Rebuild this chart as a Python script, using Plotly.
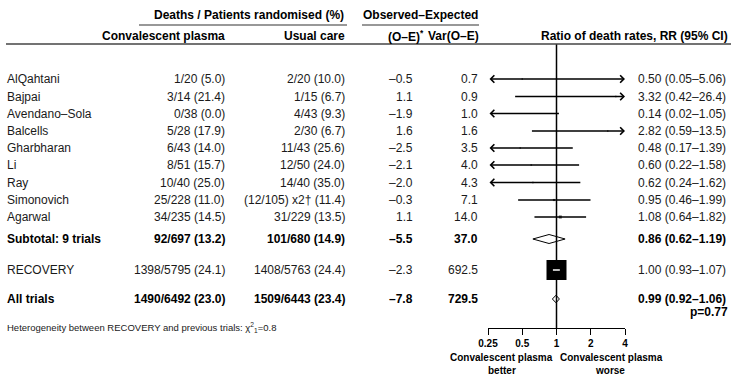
import math
import plotly.graph_objects as go

# ---------------- data ----------------
studies = ["AlQahtani", "Bajpai", "Avendano–Sola", "Balcells", "Gharbharan",
           "Li", "Ray", "Simonovich", "Agarwal"]
plasma = ["1/20 (5.0)", "3/14 (21.4)", "0/38 (0.0)", "5/28 (17.9)", "6/43 (14.0)",
          "8/51 (15.7)", "10/40 (25.0)", "25/228 (11.0)", "34/235 (14.5)"]
usual = ["2/20 (10.0)", "1/15 (6.7)", "4/43 (9.3)", "2/30 (6.7)", "11/43 (25.6)",
         "12/50 (24.0)", "14/40 (35.0)", "(12/105) x2† (11.4)", "31/229 (13.5)"]
o_e = [-0.5, 1.1, -1.9, 1.6, -2.5, -2.1, -2.0, -0.3, 1.1]
var_oe = [0.7, 0.9, 1.0, 1.6, 3.5, 4.0, 4.3, 7.1, 14.0]
rr = [0.50, 3.32, 0.14, 2.82, 0.48, 0.60, 0.62, 0.95, 1.08]
rr_lo = [0.05, 0.42, 0.02, 0.59, 0.17, 0.22, 0.24, 0.46, 0.64]
rr_hi = [5.06, 26.4, 1.05, 13.5, 1.39, 1.58, 1.62, 1.99, 1.82]

sub_label = "Subtotal: 9 trials"
sub_plasma, sub_usual = "92/697 (13.2)", "101/680 (14.9)"
sub_oe, sub_var, sub_rr, sub_lo, sub_hi = -5.5, 37.0, 0.86, 0.62, 1.19

rec_label = "RECOVERY"
rec_plasma, rec_usual = "1398/5795 (24.1)", "1408/5763 (24.4)"
rec_oe, rec_var, rec_rr, rec_lo, rec_hi = -2.3, 692.5, 1.00, 0.93, 1.07

all_label = "All trials"
all_plasma, all_usual = "1490/6492 (23.0)", "1509/6443 (23.4)"
all_oe, all_var, all_rr, all_lo, all_hi = -7.8, 729.5, 0.99, 0.92, 1.06
all_p = "p=0.77"

tick_vals = [0.25, 0.5, 1, 2, 4]
tick_text = ["0.25", "0.5", "1", "2", "4"]
AX_MIN, AX_MAX = 0.25, 4

# ---------------- layout constants ----------------
W, H = 736, 386
AXIS_Y = 328
row_y = [79, 96.5, 113.5, 131, 148, 165, 182.5, 200, 217]
y_sub, y_rec, y_all = 239, 270, 299
X_NAME, X_CP, X_UC, X_OE, X_VAR, X_RR = 7, 225, 345, 413, 478, 638
FONT = "Liberation Sans, Arial, Helvetica, sans-serif"
TXT = "#1a1a1a"

fig = go.Figure()


def txt(x, y, s, anchor="left", size=12, bold=False, color=TXT, paper=False):
    if bold:
        s = f"<b>{s}</b>"
        color = "black"
    fig.add_annotation(x=x, y=(1 - y / H) if paper else y, xref="x",
                       yref="paper" if paper else "y", text=s, showarrow=False,
                       xanchor=anchor, yanchor="middle", borderpad=0, borderwidth=0,
                       font=dict(family=FONT, size=size, color=color))


def fmt(v):
    return f"{v:.2f}" if v < 10 else f"{v:.1f}"


def dash(v):
    return f"{v:.1f}".replace("-", "–")


# headers
txt(248.5, 15, "Deaths / Patients randomised (%)", "center", bold=True)
txt(420.5, 15, "Observed–Expected", "center", bold=True)
txt(X_CP, 36, "Convalescent plasma", "right", bold=True)
txt(X_UC, 36, "Usual care", "right", bold=True)
txt(424, 36, "(O–E)<sup>*</sup>", "right", bold=True)
txt(479, 36, "Var(O–E)", "right", bold=True)
txt(728, 36, "Ratio of death rates, RR (95% CI)", "right", bold=True)

fig.add_shape(type="line", xref="x", yref="y", x0=139, x1=347, y0=25, y1=25,
              line=dict(color="#333", width=1.2))
fig.add_shape(type="line", xref="x", yref="y", x0=362, x1=479, y0=25, y1=25,
              line=dict(color="#333", width=1.2))
fig.add_shape(type="line", xref="x", yref="y", x0=6, x1=731, y0=44, y1=44,
              line=dict(color="#444", width=1.5))

# vertical reference line at RR = 1
fig.add_trace(go.Scatter(x=[1, 1], y=[44, AXIS_Y], xaxis="x2", yaxis="y", mode="lines",
                         line=dict(color="black", width=1.5), hoverinfo="skip"))

# study rows
for i, name in enumerate(studies):
    y = row_y[i]
    txt(X_NAME, y, name)
    txt(X_CP, y, plasma[i], "right")
    txt(X_UC, y, usual[i], "right")
    txt(X_OE, y, dash(o_e[i]), "right")
    txt(X_VAR, y, f"{var_oe[i]:.1f}", "right")
    txt(X_RR, y, f"{rr[i]:.2f} ({fmt(rr_lo[i])}–{fmt(rr_hi[i])})", "left")

    lo_c = max(rr_lo[i], AX_MIN)
    hi_c = min(rr_hi[i], AX_MAX)
    clip_lo = rr_lo[i] < AX_MIN
    clip_hi = rr_hi[i] > AX_MAX
    if clip_lo or clip_hi:
        side = "end+start" if (clip_lo and clip_hi) else ("end" if clip_hi else "start")
        fig.add_annotation(x=math.log10(hi_c), y=y, xref="x2", yref="y",
                           ax=math.log10(lo_c), ay=y, axref="x2", ayref="y",
                           text="", showarrow=True, arrowside=side, arrowhead=4,
                           startarrowhead=4, arrowsize=1.1, startarrowsize=1.1,
                           arrowwidth=1.3, arrowcolor="black")
    else:
        fig.add_trace(go.Scatter(x=[lo_c, hi_c], y=[y, y], xaxis="x2", yaxis="y",
                                 mode="lines", line=dict(color="black", width=1.3),
                                 hoverinfo="skip"))

# study point estimates (square size ~ sqrt of variance)
pts_x = [r for r in rr if AX_MIN <= r <= AX_MAX]
pts_y = [row_y[i] for i, r in enumerate(rr) if AX_MIN <= r <= AX_MAX]
pts_s = [max(1.5, 0.8 * math.sqrt(var_oe[i])) for i, r in enumerate(rr) if AX_MIN <= r <= AX_MAX]
fig.add_trace(go.Scatter(x=pts_x, y=pts_y, xaxis="x2", yaxis="y", mode="markers",
                         marker=dict(symbol="square", size=pts_s, color="black",
                                     line=dict(width=0)), hoverinfo="skip"))

# subtotal
txt(X_NAME, y_sub, sub_label, bold=True)
txt(X_CP, y_sub, sub_plasma, "right", bold=True)
txt(X_UC, y_sub, sub_usual, "right", bold=True)
txt(X_OE, y_sub, dash(sub_oe), "right", bold=True)
txt(X_VAR, y_sub, f"{sub_var:.1f}", "right", bold=True)
txt(X_RR, y_sub, f"{sub_rr:.2f} ({sub_lo:.2f}–{sub_hi:.2f})", bold=True)
fig.add_trace(go.Scatter(x=[sub_lo, sub_rr, sub_hi, sub_rr, sub_lo],
                         y=[y_sub, y_sub - 4.5, y_sub, y_sub + 4.5, y_sub],
                         xaxis="x2", yaxis="y", mode="lines",
                         line=dict(color="black", width=1), hoverinfo="skip"))

# RECOVERY
txt(X_NAME, y_rec, rec_label)
txt(X_CP, y_rec, rec_plasma, "right")
txt(X_UC, y_rec, rec_usual, "right")
txt(X_OE, y_rec, dash(rec_oe), "right")
txt(X_VAR, y_rec, f"{rec_var:.1f}", "right")
txt(X_RR, y_rec, f"{rec_rr:.2f} ({rec_lo:.2f}–{rec_hi:.2f})")
fig.add_trace(go.Scatter(x=[rec_rr], y=[y_rec], xaxis="x2", yaxis="y", mode="markers",
                         marker=dict(symbol="square", size=0.76 * math.sqrt(rec_var),
                                     color="black", line=dict(width=0)),
                         hoverinfo="skip"))
fig.add_trace(go.Scatter(x=[rec_lo, rec_hi], y=[y_rec, y_rec], xaxis="x2", yaxis="y",
                         mode="lines", line=dict(color="white", width=1.5),
                         hoverinfo="skip"))

# All trials
txt(X_NAME, y_all, all_label, bold=True)
txt(X_CP, y_all, all_plasma, "right", bold=True)
txt(X_UC, y_all, all_usual, "right", bold=True)
txt(X_OE, y_all, dash(all_oe), "right", bold=True)
txt(X_VAR, y_all, f"{all_var:.1f}", "right", bold=True)
txt(X_RR, y_all, f"{all_rr:.2f} ({all_lo:.2f}–{all_hi:.2f})", bold=True)
txt(728, 312, all_p, "right", bold=True)
fig.add_trace(go.Scatter(x=[all_lo, all_rr, all_hi, all_rr, all_lo],
                         y=[y_all, y_all - 3.8, y_all, y_all + 3.8, y_all],
                         xaxis="x2", yaxis="y", mode="lines",
                         line=dict(color="black", width=1), hoverinfo="skip"))

# footnote & axis captions
txt(X_NAME, 327, "Heterogeneity between RECOVERY and previous trials: χ<sup>2</sup><sub>1</sub>=0.8",
    size=9.5)
txt(501.5, 357, "Convalescent plasma", "center", size=10, bold=True, paper=True)
txt(502, 370, "better", "center", size=10, bold=True, paper=True)
txt(611, 357, "Convalescent plasma", "center", size=10, bold=True, paper=True)
txt(610, 370, "worse", "center", size=10, bold=True, paper=True)

fig.update_layout(
    width=W, height=H, margin=dict(l=0, r=0, t=0, b=0, autoexpand=False),
    paper_bgcolor="white", plot_bgcolor="rgba(0,0,0,0)", showlegend=False,
    xaxis=dict(range=[0, W], domain=[0, 1], visible=False, fixedrange=True),
    yaxis=dict(range=[AXIS_Y, 0], domain=[(H - AXIS_Y) / H, 1], visible=False,
               fixedrange=True),
    xaxis2=dict(type="log", range=[math.log10(AX_MIN), math.log10(AX_MAX)],
                domain=[488 / W, 625 / W], anchor="y",
                showline=True, linecolor="black", linewidth=1, ticks="outside",
                ticklen=6, tickcolor="black", tickwidth=1,
                tickvals=tick_vals, ticktext=[f"<b>{t}</b>" for t in tick_text],
                tickfont=dict(family=FONT, size=10, color="black"),
                showgrid=False, zeroline=False, fixedrange=True),
)

fig.write_html("out.html", config={"displayModeBar": False},
               post_script="document.body.style.margin='0px';")
